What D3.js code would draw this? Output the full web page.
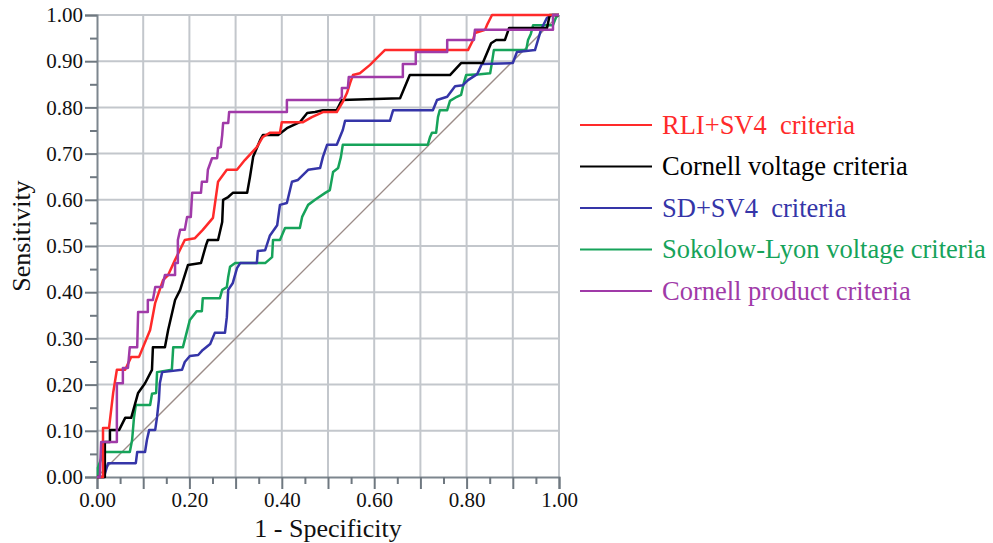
<!DOCTYPE html>
<html>
<head>
<meta charset="utf-8">
<script src="https://cdn.jsdelivr.net/npm/d3@7"></script>
<style>
  body { margin: 0; background: #fff; }
  text { font-family: "Liberation Serif", "Times New Roman", serif; }
</style>
</head>
<body>
<script>
// ROC curves, 1 - specificity on x, sensitivity on y

var width = 993,
    height = 543,
    margin = {top: 15, right: 434, bottom: 66, left: 97};

// RLI+SV4
var rliX = [0, 0.013, 0.013, 0.026, 0.035, 0.043, 0.061, 0.074, 0.091, 0.115, 0.126, 0.143, 0.154, 0.169, 0.19, 0.212, 0.229, 0.251, 0.262, 0.281, 0.303, 0.32, 0.346, 0.359, 0.374, 0.396, 0.4, 0.446, 0.465, 0.489, 0.519, 0.532, 0.541, 0.548, 0.554, 0.569, 0.591, 0.606, 0.623, 0.803, 0.814, 0.818, 0.84, 0.844, 0.855, 1];
var rliY = [0, 0, 0.106, 0.106, 0.182, 0.232, 0.232, 0.26, 0.26, 0.318, 0.377, 0.426, 0.437, 0.47, 0.513, 0.517, 0.535, 0.561, 0.639, 0.665, 0.665, 0.686, 0.714, 0.736, 0.745, 0.745, 0.768, 0.768, 0.779, 0.79, 0.79, 0.812, 0.831, 0.853, 0.87, 0.874, 0.892, 0.907, 0.924, 0.924, 0.946, 0.961, 0.968, 0.978, 1, 1];

// Cornell voltage
var cvX = [0, 0.017, 0.017, 0.028, 0.028, 0.048, 0.061, 0.074, 0.089, 0.104, 0.119, 0.121, 0.147, 0.154, 0.169, 0.18, 0.197, 0.225, 0.236, 0.24, 0.262, 0.271, 0.273, 0.284, 0.294, 0.325, 0.331, 0.338, 0.353, 0.359, 0.392, 0.411, 0.439, 0.455, 0.472, 0.489, 0.519, 0.53, 0.656, 0.677, 0.764, 0.788, 0.835, 0.853, 0.864, 0.883, 0.892, 0.974, 0.98, 1];
var cvY = [0, 0, 0.076, 0.076, 0.102, 0.102, 0.128, 0.128, 0.182, 0.203, 0.232, 0.281, 0.281, 0.318, 0.383, 0.405, 0.459, 0.463, 0.502, 0.513, 0.513, 0.552, 0.6, 0.606, 0.615, 0.615, 0.649, 0.693, 0.729, 0.74, 0.74, 0.755, 0.768, 0.788, 0.79, 0.794, 0.794, 0.816, 0.82, 0.87, 0.87, 0.896, 0.896, 0.939, 0.946, 0.946, 0.972, 0.972, 1, 1];

// SD+SV4
var sdX = [0, 0.015, 0.024, 0.084, 0.087, 0.104, 0.108, 0.113, 0.126, 0.13, 0.134, 0.136, 0.141, 0.184, 0.19, 0.201, 0.219, 0.229, 0.245, 0.255, 0.277, 0.281, 0.284, 0.294, 0.303, 0.31, 0.346, 0.348, 0.364, 0.374, 0.39, 0.396, 0.411, 0.422, 0.435, 0.457, 0.483, 0.489, 0.498, 0.519, 0.532, 0.537, 0.634, 0.641, 0.727, 0.736, 0.758, 0.775, 0.792, 0.803, 0.823, 0.833, 0.9, 0.909, 0.948, 0.961, 0.974, 0.985, 1];
var sdY = [0, 0, 0.03, 0.03, 0.054, 0.054, 0.08, 0.102, 0.102, 0.13, 0.167, 0.203, 0.227, 0.232, 0.249, 0.262, 0.264, 0.275, 0.288, 0.312, 0.312, 0.346, 0.405, 0.42, 0.452, 0.463, 0.463, 0.489, 0.491, 0.522, 0.545, 0.589, 0.593, 0.639, 0.643, 0.665, 0.669, 0.693, 0.719, 0.719, 0.751, 0.771, 0.771, 0.794, 0.794, 0.816, 0.823, 0.846, 0.848, 0.859, 0.872, 0.894, 0.896, 0.92, 0.924, 0.968, 0.994, 1, 1];

// Sokolow-Lyon voltage
var slX = [0, 0.002, 0.002, 0.011, 0.015, 0.071, 0.076, 0.08, 0.084, 0.115, 0.119, 0.128, 0.13, 0.162, 0.165, 0.186, 0.201, 0.216, 0.227, 0.229, 0.266, 0.271, 0.281, 0.284, 0.288, 0.299, 0.364, 0.379, 0.381, 0.396, 0.407, 0.439, 0.444, 0.457, 0.472, 0.494, 0.504, 0.511, 0.522, 0.528, 0.532, 0.716, 0.721, 0.725, 0.734, 0.738, 0.742, 0.758, 0.764, 0.779, 0.788, 0.794, 0.799, 0.829, 0.851, 0.855, 0.859, 0.929, 0.933, 0.939, 0.944, 0.987, 0.994, 1];
var slY = [0, 0, 0.02, 0.045, 0.054, 0.054, 0.08, 0.128, 0.156, 0.156, 0.18, 0.182, 0.227, 0.232, 0.281, 0.281, 0.34, 0.359, 0.359, 0.387, 0.387, 0.405, 0.411, 0.433, 0.455, 0.463, 0.463, 0.476, 0.513, 0.513, 0.539, 0.539, 0.563, 0.589, 0.6, 0.615, 0.621, 0.66, 0.669, 0.693, 0.719, 0.719, 0.736, 0.745, 0.745, 0.779, 0.794, 0.794, 0.814, 0.823, 0.827, 0.853, 0.87, 0.872, 0.874, 0.898, 0.924, 0.924, 0.946, 0.959, 0.978, 0.978, 0.996, 1];

// Cornell product
var cpX = [0, 0.006, 0.009, 0.043, 0.043, 0.056, 0.056, 0.067, 0.071, 0.087, 0.089, 0.11, 0.11, 0.121, 0.126, 0.141, 0.147, 0.169, 0.169, 0.175, 0.175, 0.18, 0.19, 0.195, 0.203, 0.206, 0.225, 0.227, 0.238, 0.24, 0.249, 0.26, 0.262, 0.268, 0.271, 0.273, 0.284, 0.286, 0.411, 0.411, 0.524, 0.53, 0.53, 0.543, 0.545, 0.662, 0.662, 0.69, 0.69, 0.758, 0.758, 0.816, 0.818, 0.987, 0.987, 1];
var cpY = [0, 0, 0.076, 0.076, 0.203, 0.203, 0.236, 0.236, 0.281, 0.281, 0.357, 0.357, 0.383, 0.383, 0.411, 0.411, 0.437, 0.437, 0.463, 0.463, 0.513, 0.535, 0.535, 0.563, 0.563, 0.615, 0.615, 0.639, 0.639, 0.665, 0.69, 0.69, 0.712, 0.714, 0.74, 0.766, 0.766, 0.79, 0.79, 0.816, 0.816, 0.823, 0.842, 0.842, 0.866, 0.866, 0.894, 0.894, 0.92, 0.92, 0.946, 0.946, 0.968, 0.968, 1, 1];

var seriesNames = ["RLI+SV4  criteria", "Cornell voltage criteria", "SD+SV4  criteria", "Sokolow-Lyon voltage criteria", "Cornell product criteria"];
var seriesColors = ["#ff2a2a", "#000000", "#3535a8", "#16a35a", "#a03aa8"];
var seriesX = [rliX, cvX, sdX, slX, cpX];
var seriesY = [rliY, cvY, sdY, slY, cpY];

var majorTicks = d3.range(0, 11).map(function(i) { return i / 10; });
var minorTicks = d3.range(0, 10).map(function(i) { return i / 10 + 0.05; });

var svg = d3.select("body").append("svg")
    .attr("width", width)
    .attr("height", height);

var x = d3.scaleLinear().domain([0, 1]).range([margin.left, width - margin.right]);
var y = d3.scaleLinear().domain([0, 1]).range([height - margin.bottom, margin.top]);

// grid
svg.append("g").selectAll("line.vg")
  .data(majorTicks.slice(1))
  .enter().append("line")
    .attr("x1", function(d) { return x(d); })
    .attr("x2", function(d) { return x(d); })
    .attr("y1", y(0))
    .attr("y2", y(1))
    .attr("stroke", "#c3c7cc")
    .attr("stroke-width", 2);

svg.append("g").selectAll("line.hg")
  .data(majorTicks.slice(1))
  .enter().append("line")
    .attr("x1", x(0))
    .attr("x2", x(1))
    .attr("y1", function(d) { return y(d); })
    .attr("y2", function(d) { return y(d); })
    .attr("stroke", "#c3c7cc")
    .attr("stroke-width", 2);

// axes
var fmt = d3.format(".2f");

var yAxis = svg.append("g")
    .attr("transform", "translate(" + x(0) + ",0)")
    .call(d3.axisLeft(y).tickValues(majorTicks).tickFormat(fmt).tickSize(12).tickPadding(2));
svg.append("g")
    .attr("transform", "translate(" + x(0) + ",0)")
    .call(d3.axisLeft(y).tickValues(minorTicks).tickFormat("").tickSize(7))
    .select(".domain").remove();

var xAxis = svg.append("g")
    .attr("transform", "translate(0," + y(0) + ")")
    .call(d3.axisBottom(x).tickValues(majorTicks).tickSize(12).tickPadding(3)
      .tickFormat(function(d) { return Math.round(d * 10) % 2 == 0 ? fmt(d) : ""; }));
svg.append("g")
    .attr("transform", "translate(0," + y(0) + ")")
    .call(d3.axisBottom(x).tickValues(minorTicks).tickFormat("").tickSize(7))
    .select(".domain").remove();

svg.selectAll(".tick line").attr("stroke", "#6f7880").attr("stroke-width", 2);
svg.selectAll(".domain").attr("stroke", "#7d868e").attr("stroke-width", 2);
svg.selectAll(".tick text")
    .attr("font-family", "Liberation Serif")
    .attr("font-size", 21)
    .attr("fill", "#111");

axisTitles();

// reference diagonal
svg.append("line")
    .attr("x1", x(0)).attr("y1", y(0))
    .attr("x2", x(1)).attr("y2", y(1))
    .attr("stroke", "#9c8c88")
    .attr("stroke-width", 1.3);

var line = d3.line()
    .x(function(d) { return x(d[0]); })
    .y(function(d) { return y(d[1]); });

// draw order: green, blue, black, red, purple
[3, 2, 1, 0, 4].forEach(function(i) {
  var pts = seriesX[i].map(function(v, j) { return [v, seriesY[i][j]]; });
  svg.append("path")
      .datum(pts)
      .attr("d", line)
      .attr("fill", "none")
      .attr("stroke", seriesColors[i])
      .attr("stroke-width", 2.5)
      .attr("stroke-linejoin", "round");
});

// legend
var legend = svg.append("g").selectAll("g")
  .data(seriesNames)
  .enter().append("g")
    .attr("transform", function(d, i) { return "translate(580," + (125 + i * 41.5) + ")"; });

legend.append("line")
    .attr("x1", 0).attr("x2", 72)
    .attr("stroke", function(d, i) { return seriesColors[i]; })
    .attr("stroke-width", 2.2);

legend.append("text")
    .attr("x", 82)
    .attr("dy", "0.33em")
    .attr("font-size", 26.5)
    .attr("fill", function(d, i) { return seriesColors[i]; })
    .style("white-space", "pre")
    .text(function(d) { return d; });

function axisTitles() {
  svg.append("text")
      .attr("x", (x(0) + x(1)) / 2)
      .attr("y", 537)
      .attr("text-anchor", "middle")
      .attr("font-size", 26)
      .attr("fill", "#111")
      .text("1 - Specificity");

  svg.append("text")
      .attr("transform", "translate(30,236) rotate(-90)")
      .attr("text-anchor", "middle")
      .attr("font-size", 26)
      .attr("fill", "#111")
      .text("Sensitivity");
}
</script>
</body>
</html>
